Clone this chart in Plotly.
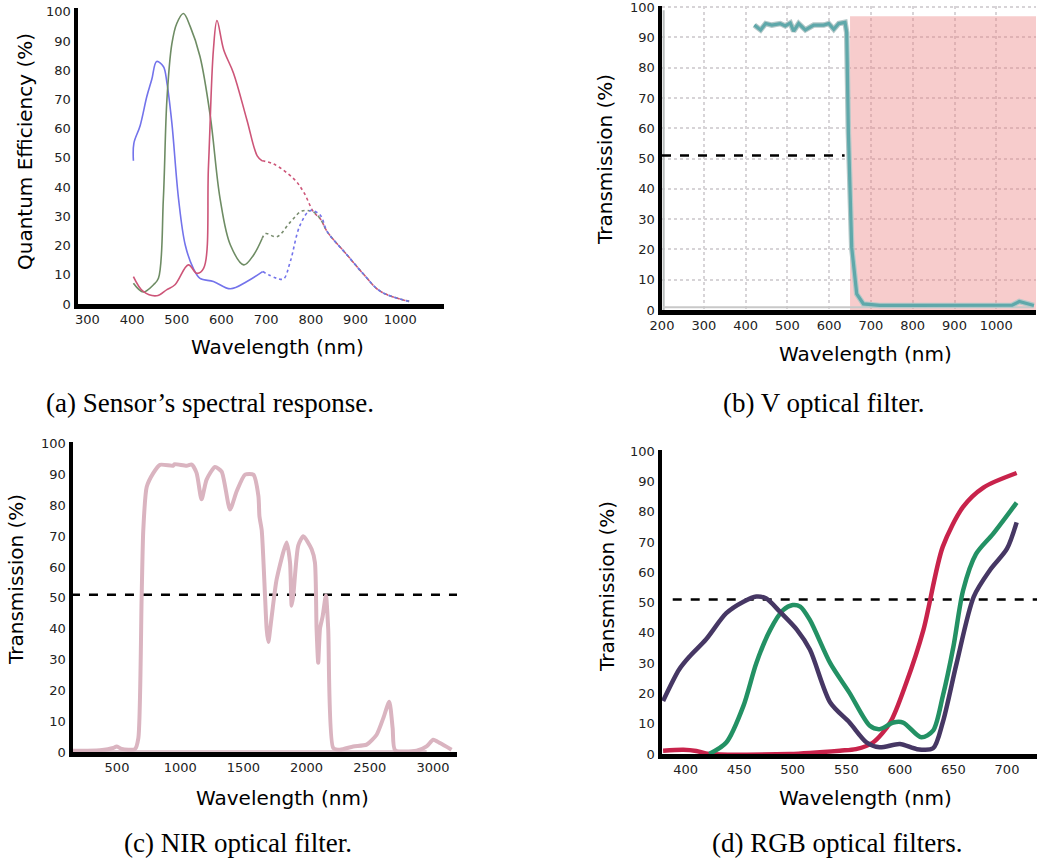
import plotly.graph_objects as go

W, H = 1039, 866

# ---------------- (a) Sensor spectral response ----------------
a_blue_x = [403, 404, 418, 433, 444, 455, 470, 478, 489, 504, 519, 537, 552, 582, 620, 657, 692]
a_blue_y = [49, 55, 61, 71, 76.8, 83, 81.3, 75.7, 62, 36, 20.2, 12.2, 8.8, 7.7, 5.2, 7.7, 11.1]
a_blue_dot_x = [692, 724, 739, 754, 776, 799, 821, 837, 881, 919, 956, 1020]
a_blue_dot_y = [11.1, 8.8, 8.6, 14.5, 27, 32, 30.4, 24.7, 16.8, 10, 4.3, 0.9]

a_green_x = [403, 425, 448, 459, 470, 478, 489, 500, 515, 530, 552, 575, 597, 620, 650, 672, 691]
a_green_y = [7.1, 4.1, 6.6, 8.8, 36, 70, 89, 96, 99.4, 95, 84.7, 64.3, 36, 20.2, 13.4, 16.8, 22.4]
a_green_dot_x = [691, 699, 724, 754, 780, 806, 821, 837, 881, 919, 956, 1020]
a_green_dot_y = [22.4, 24.1, 23, 28, 31.8, 31.5, 29.2, 24.7, 16.8, 10, 4.3, 0.9]

a_red_x = [403, 425, 455, 478, 496, 526, 545, 560, 571, 582, 590, 605, 627, 657, 680, 691]
a_red_y = [9.4, 4.3, 2.8, 4.9, 6.6, 13.4, 10.5, 12.2, 47.3, 87, 97, 87, 79, 63, 50.7, 49]
a_red_dot_x = [691, 717, 762, 784, 806, 821, 837, 881, 919, 956, 1020]
a_red_dot_y = [49, 47.9, 42.8, 38.3, 31.5, 29.2, 24.7, 16.8, 10, 4.3, 0.9]

a_xticks = [300, 400, 500, 600, 700, 800, 900, 1000, 1100]

# ---------------- (b) V optical filter ----------------
b_x = [421, 436, 448, 463, 483, 495, 507, 515, 527, 543, 563, 587, 599, 611, 623, 638, 642, 646, 654,
       666, 682, 721, 801, 900, 1038, 1055, 1090]
b_y = [94.1, 92.5, 94.6, 94.1, 94.6, 93.8, 94.8, 92.1, 94.6, 92.5, 94.1, 94.1, 94.6, 92.7, 94.6, 95, 91.6,
       58.8, 20.6, 5.3, 2, 1.5, 1.5, 1.5, 1.6, 2.8, 1.5]
b_band = [650, 1095]
b_band_top = 97
b_xticks = [200, 300, 400, 500, 600, 700, 800, 900, 1000]

# ---------------- (c) NIR optical filter ----------------
c_x = [142, 365, 471, 497, 537, 642, 669, 695, 708, 735, 787, 840, 945, 953, 1051, 1091, 1130, 1169, 1209,
       1275, 1328, 1394, 1447, 1513, 1579, 1619, 1627, 1645, 1671, 1684, 1697, 1724, 1763, 1842, 1869,
       1882, 1895, 1934, 1974, 2040, 2066, 2079, 2092, 2106, 2127, 2153, 2171, 2211, 2264, 2369, 2475,
       2554, 2607, 2654, 2681, 2700, 2870, 2949, 3002, 3055, 3147]
c_y = [0.4, 0.6, 1.3, 1.8, 1, 0.9, 4.5, 50, 72, 86, 90.5, 93.2, 92.9, 93.4, 92.9, 93.3, 90.5, 82, 88.4,
       92.5, 91, 78.7, 84.6, 90, 90, 83, 76.5, 72, 50.8, 40, 35.7, 44, 56, 68, 61.5,
       47.5, 50.8, 67, 70, 65.8, 61.5, 40, 29, 40, 44, 50.8, 40, 1.3, 0.75, 1.8, 2.4,
       5.6, 11, 16.3, 7.7, 0.6, 0.4, 1.8, 4, 2.9, 0.75]
c_base_x = [300, 2950]
c_base_y = [0.3, 0.3]
c_xticks = [500, 1000, 1500, 2000, 2500, 3000]

# ---------------- (d) RGB optical filters ----------------
d_purple_x = [379, 394, 404, 419, 438, 454, 466, 475, 488, 504, 516, 535, 553, 569, 581, 600, 616, 631,
              640, 653, 669, 684, 700, 709]
d_purple_y = [17.5, 27.9, 32.3, 37.8, 46.5, 50.3, 52, 51.4, 47, 41, 34.5, 17, 10.4, 3.8, 2.2, 3.3, 1.6, 1.9,
              10.4, 30, 52, 60.7, 67.8, 76.5]
d_green_x = [422, 438, 454, 466, 479, 491, 500, 507, 516, 535, 553, 572, 581, 594, 603, 620, 631, 640,
             650, 659, 671, 687, 709]
d_green_y = [0, 3.8, 15.9, 30, 41, 47.5, 49.2, 48.7, 44.3, 30, 20.2, 9.3, 8.2, 10.4, 10.4, 5.5, 7.7, 19,
             35.5, 54, 66, 72.7, 83]
d_red_x = [379, 398, 410, 422, 497, 544, 559, 575, 591, 606, 622, 640, 659, 678, 709]
d_red_y = [1.1, 1.4, 1, 0, 0, 1.1, 1.6, 3.8, 10.4, 23.5, 41, 68.4, 81.6, 88, 92.8]
d_xticks = [400, 450, 500, 550, 600, 650, 700]

y_ticks = [0, 10, 20, 30, 40, 50, 60, 70, 80, 90, 100]
THRESHOLD = 50

captions = ["(a) Sensor’s spectral response.", "(b) V optical filter.",
            "(c) NIR optical filter.", "(d) RGB optical filters."]


def xd(p0, p1):
    return [p0 / W, p1 / W]


def yd(top, bottom):
    return [1 - bottom / H, 1 - top / H]


fig = go.Figure()

# panel a
for xs, ys, col in [(a_blue_x, a_blue_y, "rgb(115,115,235)"),
                    (a_green_x, a_green_y, "rgb(110,140,100)"),
                    (a_red_x, a_red_y, "rgb(205,85,120)")]:
    fig.add_trace(go.Scatter(x=xs, y=ys, mode="lines", line=dict(color=col, width=1.6, shape="spline"),
                             xaxis="x", yaxis="y", showlegend=False))
for xs, ys, col in [(a_red_dot_x, a_red_dot_y, "rgb(205,85,120)"),
                    (a_green_dot_x, a_green_dot_y, "rgb(120,140,110)"),
                    (a_blue_dot_x, a_blue_dot_y, "rgb(115,115,235)")]:
    fig.add_trace(go.Scatter(x=xs, y=ys, mode="lines",
                             line=dict(color=col, width=1.6, shape="spline", dash="dot"),
                             xaxis="x", yaxis="y", showlegend=False))

# panel b
fig.add_trace(go.Scatter(x=[b_band[0], b_band[0], b_band[1], b_band[1]], y=[0, b_band_top, b_band_top, 0],
                         fill="toself", fillcolor="rgba(235,128,128,0.4)", line=dict(width=0), mode="lines",
                         xaxis="x2", yaxis="y2", showlegend=False, hoverinfo="skip"))
fig.add_trace(go.Scatter(x=[204, 204], y=[0, 99], mode="lines", line=dict(color="rgb(185,190,190)", width=2),
                         xaxis="x2", yaxis="y2", showlegend=False))
fig.add_trace(go.Scatter(x=[202, 1090], y=[0.9, 0.9], mode="lines", line=dict(color="rgb(200,200,200)", width=2),
                         xaxis="x2", yaxis="y2", showlegend=False))
fig.add_trace(go.Scatter(x=[200, 637], y=[THRESHOLD + 1, THRESHOLD + 1], mode="lines",
                         line=dict(color="black", width=2.5, dash="dash"),
                         xaxis="x2", yaxis="y2", showlegend=False))
fig.add_trace(go.Scatter(x=b_x, y=b_y, mode="lines", line=dict(color="rgb(180,200,200)", width=5.5),
                         xaxis="x2", yaxis="y2", showlegend=False))
fig.add_trace(go.Scatter(x=b_x, y=b_y, mode="lines", line=dict(color="rgb(95,168,170)", width=3.2),
                         xaxis="x2", yaxis="y2", showlegend=False))

# panel c
fig.add_trace(go.Scatter(x=c_base_x, y=c_base_y, mode="lines", line=dict(color="rgb(225,200,208)", width=2),
                         xaxis="x3", yaxis="y3", showlegend=False))
fig.add_trace(go.Scatter(x=[136, 3190], y=[THRESHOLD + 1, THRESHOLD + 1], mode="lines",
                         line=dict(color="black", width=2.5, dash="dash"),
                         xaxis="x3", yaxis="y3", showlegend=False))
fig.add_trace(go.Scatter(x=c_x, y=c_y, mode="lines", line=dict(color="rgb(218,180,192)", width=4, shape="spline",
                                                             smoothing=0.6),
                         xaxis="x3", yaxis="y3", showlegend=False))

# panel d
fig.add_trace(go.Scatter(x=[388, 728], y=[THRESHOLD + 1, THRESHOLD + 1], mode="lines",
                         line=dict(color="black", width=2.5, dash="dash"),
                         xaxis="x4", yaxis="y4", showlegend=False))
for xs, ys, col in [(d_red_x, d_red_y, "rgb(200,35,75)"),
                    (d_green_x, d_green_y, "rgb(35,145,100)"),
                    (d_purple_x, d_purple_y, "rgb(70,55,100)")]:
    fig.add_trace(go.Scatter(x=xs, y=ys, mode="lines", line=dict(color=col, width=4.5, shape="spline",
                                                                 smoothing=0.8),
                             xaxis="x4", yaxis="y4", showlegend=False))

tickfont = dict(family="DejaVu Sans", size=13, color="#222")
axline = dict(showline=True, linecolor="black", linewidth=4.5, ticks="", zeroline=False, tickfont=tickfont,
              fixedrange=True, automargin=False, ticklabeloverflow="allow")

fig.update_layout(
    width=W, height=H, margin=dict(l=0, r=0, t=0, b=0, pad=0, autoexpand=False),
    paper_bgcolor="white", plot_bgcolor="white", showlegend=False,
    xaxis=dict(domain=xd(78, 444), range=[279, 1098], tickvals=a_xticks, anchor="y", showgrid=False, **axline),
    yaxis=dict(domain=yd(8, 304), range=[0, 101.3], tickvals=y_ticks, anchor="x", showgrid=False, **axline),
    xaxis2=dict(domain=xd(662, 1036), range=[200, 1095], tickvals=b_xticks, anchor="y2", showgrid=True,
                gridcolor="rgb(215,212,215)", griddash="dot", gridwidth=2, **axline),
    yaxis2=dict(domain=yd(6, 310), range=[0, 100.4], tickvals=y_ticks, anchor="x2", showgrid=True,
                gridcolor="rgb(215,212,215)", griddash="dot", gridwidth=2, **axline),
    xaxis3=dict(domain=xd(73, 457), range=[152, 3190], tickvals=c_xticks, anchor="y3", showgrid=False, **axline),
    yaxis3=dict(domain=yd(442, 752), range=[0, 100.6], tickvals=y_ticks, anchor="x3", showgrid=False, **axline),
    xaxis4=dict(domain=xd(662, 1037), range=[378, 728], tickvals=d_xticks, anchor="y4", showgrid=False, **axline),
    yaxis4=dict(domain=yd(450, 754), range=[0, 100.4], tickvals=y_ticks, anchor="x4", showgrid=False, **axline),
)

title_font = dict(family="DejaVu Sans", size=20, color="black")
ann = []
# y titles
for x, y, t in [(25, 152, "Quantum Efficiency (%)"), (605, 160, "Transmission (%)"),
                (16, 580, "Transmission (%)"), (607, 587, "Transmission (%)")]:
    ann.append(dict(x=x / W, y=1 - y / H, xref="paper", yref="paper", text=t, showarrow=False,
                    textangle=-90, font=title_font, xanchor="center", yanchor="middle"))
# x titles
for x, y in [(277, 347), (865, 354), (282, 798), (865, 798)]:
    ann.append(dict(x=x / W, y=1 - y / H, xref="paper", yref="paper", text="Wavelength (nm)", showarrow=False,
                    font=title_font, xanchor="center", yanchor="middle"))
# captions
cap_font = dict(family="Liberation Serif", size=27, color="black")
for (x, y), t in zip([(210, 403), (823, 403), (238, 843), (837, 843)], captions):
    ann.append(dict(x=x / W, y=1 - y / H, xref="paper", yref="paper", text=t, showarrow=False,
                    font=cap_font, xanchor="center", yanchor="middle"))
fig.update_layout(annotations=ann)

fig.write_html("out.html", config={"displayModeBar": False, "staticPlot": True},
               post_script="document.body.style.margin='0px';document.body.style.padding='0px';"
                           "document.body.style.overflow='hidden';")
